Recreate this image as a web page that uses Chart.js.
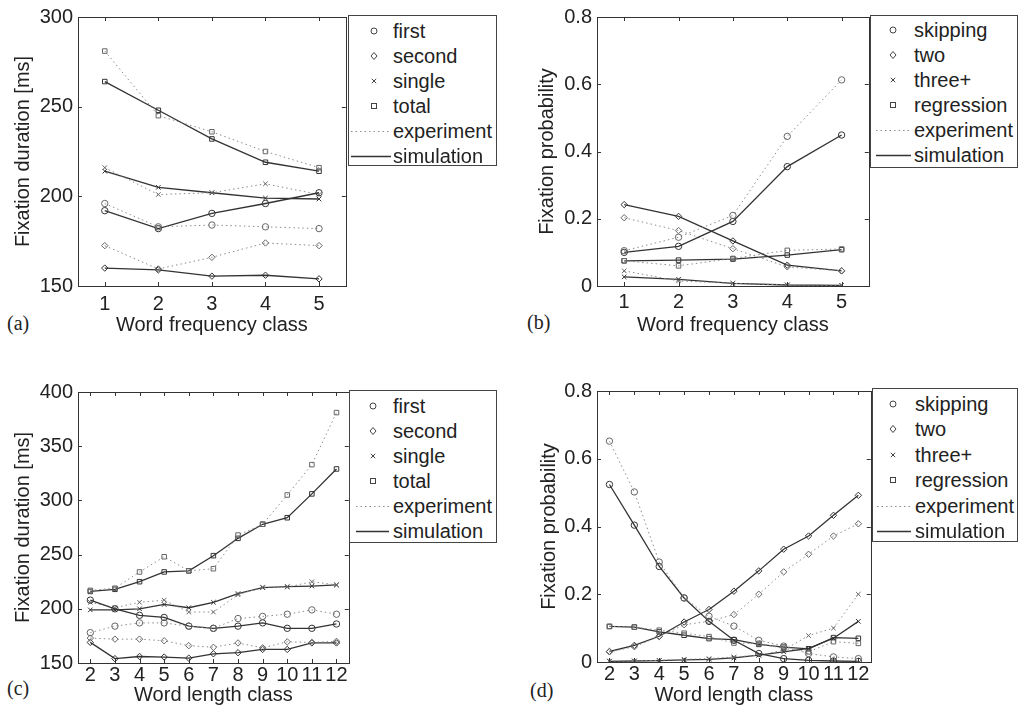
<!DOCTYPE html>
<html>
<head>
<meta charset="utf-8">
<script src="https://cdn.jsdelivr.net/npm/chart.js@4.4.1/dist/chart.umd.min.js"></script>
<style>
body{margin:0;background:#fff;width:1020px;height:711px;position:relative;overflow:hidden;font-family:"Liberation Sans",Arial,sans-serif;color:#222;}
canvas{position:absolute;}
.legend{position:absolute;border:1px solid #444;background:#fff;box-sizing:border-box;}
.legend .row{position:absolute;left:0;right:0;height:24px;line-height:24px;font-size:20px;white-space:nowrap;}
.legend svg{position:absolute;left:0;top:0;}
.legend span{position:absolute;}
.tag{position:absolute;font-family:"Liberation Serif","Times New Roman",serif;font-size:20px;line-height:24px;}
</style>
</head>
<body>

<div class="tag" style="left:7px;top:311px">(a)</div>
<div class="tag" style="left:527px;top:310px">(b)</div>
<div class="tag" style="left:7px;top:676px">(c)</div>
<div class="tag" style="left:530px;top:678px">(d)</div>

<script>
// x categories
const freqClasses = ["1","2","3","4","5"];
const lengthClasses = ["2","3","4","5","6","7","8","9","10","11","12"];

// y ticks
const durTicksA = [150,200,250,300];
const durTicksC = [150,200,250,300,350,400];
const probTicks = [0,0.2,0.4,0.6,0.8];
const probTickLabels = ["0","0.2","0.4","0.6","0.8"];

// (a) fixation durations by word frequency class
const firstExpA  = [196,183,184,183,182];
const firstSimA  = [192,182,190.5,196,202];
const secondExpA = [172.5,159.5,166,174,172.5];
const secondSimA = [160,159,155.5,156,154];
const singleExpA = [216,201,202,207,201];
const singleSimA = [214,205,202,199,198.5];
const totalExpA  = [281,245,236,225,216];
const totalSimA  = [264,248,232,219,214];

// (b) fixation probabilities by word frequency class
const skipExpB  = [0.105,0.145,0.21,0.445,0.613];
const skipSimB  = [0.10,0.118,0.192,0.355,0.449];
const twoExpB   = [0.203,0.165,0.111,0.057,0.045];
const twoSimB   = [0.242,0.207,0.134,0.062,0.045];
const threeExpB = [0.045,0.015,0.008,0.003,0.002];
const threeSimB = [0.027,0.02,0.008,0.003,0.002];
const regExpB   = [0.075,0.06,0.082,0.106,0.11];
const regSimB   = [0.075,0.077,0.08,0.092,0.108];

// (c) fixation durations by word length class
const firstExpC  = [178,184,187,187,184,182,191,193,195,199,195];
const firstSimC  = [208,200,194,192,184,182,184,187,182,182,186];
const secondExpC = [173,172,172,170.5,166,164.5,168.5,164,169.5,169,170];
const secondSimC = [169,154,156,155.5,154.5,158.5,159.5,162.5,162.5,168.5,168.5];
const singleExpC = [206,201,206,208,197,197,213,220,220,225,222];
const singleSimC = [199,199,200,204,201,206,214,219.5,220.5,221,222];
const totalExpC  = [217,219,234,248,235,237,268,278,305,333,381];
const totalSimC  = [216,218,225,234,235,249,265,278,284,306,329];

// (d) fixation probabilities by word length class
const skipExpD  = [0.652,0.502,0.295,0.189,0.135,0.106,0.064,0.047,0.025,0.015,0.01];
const skipSimD  = [0.524,0.404,0.282,0.189,0.12,0.064,0.025,0.01,0.005,0.003,0.002];
const twoExpD   = [0.03,0.045,0.075,0.11,0.12,0.14,0.2,0.266,0.318,0.372,0.408];
const twoSimD   = [0.031,0.049,0.076,0.118,0.155,0.209,0.269,0.333,0.372,0.433,0.492];
const threeExpD = [0.003,0.003,0.005,0.008,0.01,0.015,0.02,0.035,0.078,0.10,0.20];
const threeSimD = [0.002,0.003,0.004,0.006,0.008,0.012,0.02,0.03,0.04,0.07,0.12];
const regExpD   = [0.105,0.103,0.094,0.085,0.075,0.056,0.055,0.04,0.03,0.06,0.055];
const regSimD   = [0.105,0.103,0.089,0.079,0.069,0.066,0.052,0.044,0.039,0.072,0.07];

const durNames  = ["first","second","single","total"];
const probNames = ["skipping","two","three+","regression"];
const markers   = ["circle","rectRot","crossRot","rect"];

Chart.defaults.font.family = '"Liberation Sans", Arial, sans-serif';
Chart.defaults.font.size = 20;
Chart.defaults.color = "#222";

// box round the plot + inward ticks, matlab style
const framePlugin = {
  id: "frame",
  afterDraw(chart){
    const {ctx, chartArea:a, scales:{x, y}} = chart;
    ctx.save();
    ctx.strokeStyle = "#333";
    ctx.lineWidth = 1;
    ctx.strokeRect(Math.round(a.left)+0.5, Math.round(a.top)+0.5, Math.round(a.width), Math.round(a.height));
    ctx.beginPath();
    x.ticks.forEach((t,i)=>{
      const px = Math.round(x.getPixelForTick(i))+0.5;
      ctx.moveTo(px,a.bottom); ctx.lineTo(px,a.bottom-4);
      ctx.moveTo(px,a.top); ctx.lineTo(px,a.top+4);
    });
    y.ticks.forEach((t,i)=>{
      const py = Math.round(y.getPixelForTick(i))+0.5;
      ctx.moveTo(a.left,py); ctx.lineTo(a.left+4,py);
      ctx.moveTo(a.right,py); ctx.lineTo(a.right-4,py);
    });
    ctx.stroke();
    ctx.restore();
  }
};

function makePanel(p){
  const cv = document.createElement("canvas");
  cv.width = p.w; cv.height = p.h;
  cv.style.left = p.x+"px"; cv.style.top = p.y+"px";
  document.body.appendChild(cv);

  const datasets = [];
  p.series.forEach((s,i)=>{
    datasets.push({
      data: s[0], pointStyle: markers[i], pointRadius: 3.2, pointHoverRadius: 3.2,
      borderColor: "#8c8c8c", borderDash: [1.5,3], borderWidth: 1,
      pointBorderColor: "#666", pointBackgroundColor: "rgba(0,0,0,0)", pointBorderWidth: 1
    });
    datasets.push({
      data: s[1], pointStyle: markers[i], pointRadius: 3.2, pointHoverRadius: 3.2,
      borderColor: "#333", borderWidth: 1.3,
      pointBorderColor: "#333", pointBackgroundColor: "rgba(0,0,0,0)", pointBorderWidth: 1
    });
  });

  new Chart(cv, {
    type: "line",
    data: {labels: p.labels, datasets: datasets},
    options: {
      responsive: false,
      animation: false,
      layout: {padding: {top: p.padTop, right: 3, left: 0, bottom: 0}},
      plugins: {legend: {display: false}, tooltip: {enabled: false}},
      scales: {
        x: {
          type: "category", offset: true,
          grid: {display: false, drawTicks: false}, border: {display: false},
          ticks: {padding: p.xTickPad, maxRotation: 0, autoSkip: false},
          title: {display: true, text: p.xTitle, padding: {top: 0, bottom: p.xTitlePad}},
          afterFit: s => { s.height = p.xH; }
        },
        y: {
          min: p.yTicks[0], max: p.yTicks[p.yTicks.length-1],
          grid: {display: false, drawTicks: false}, border: {display: false},
          afterBuildTicks: s => { s.ticks = p.yTicks.map(v => ({value: v})); },
          ticks: {padding: 5, callback: (v,i) => p.yLabels[i]},
          title: {display: true, text: p.yTitle, padding: {top: p.yTitlePad, bottom: 0}},
          afterFit: s => { s.width = p.yW; }
        }
      }
    },
    plugins: [framePlugin]
  });
}

function markerSvg(style, cx){
  const c = 12;
  if(style === "circle") return `<circle cx="${cx}" cy="${c}" r="3"/>`;
  if(style === "rectRot") return `<path d="M${cx} ${c-3.5}L${cx+3} ${c}L${cx} ${c+3.5}L${cx-3} ${c}Z"/>`;
  if(style === "crossRot") return `<path d="M${cx-2.2} ${c-2.2}L${cx+2.2} ${c+2.2}M${cx+2.2} ${c-2.2}L${cx-2.2} ${c+2.2}"/>`;
  return `<rect x="${cx-2.5}" y="${c-2.5}" width="5" height="5"/>`;
}

function makeLegend(b, names){
  const el = document.createElement("div");
  el.className = "legend";
  Object.assign(el.style, {left: b.x+"px", top: b.y+"px", width: b.w+"px", height: b.h+"px"});
  const rows = names.concat(["experiment","simulation"]);
  rows.forEach((name,i)=>{
    const row = document.createElement("div");
    row.className = "row";
    row.style.top = (b.first + i*b.step - 12)+"px";
    let svg;
    if(i < names.length){
      svg = `<svg width="${b.w}" height="24" fill="none" stroke="#444" stroke-width="1">${markerSvg(markers[i], b.mx)}</svg>`;
    } else if(name === "experiment"){
      svg = `<svg width="${b.w}" height="24"><line x1="${b.l1}" y1="12.5" x2="${b.l2}" y2="12.5" stroke="#8c8c8c" stroke-width="1" stroke-dasharray="1.5 3"/></svg>`;
    } else {
      svg = `<svg width="${b.w}" height="24"><line x1="${b.l1}" y1="12.5" x2="${b.l2}" y2="12.5" stroke="#333" stroke-width="1.3"/></svg>`;
    }
    row.innerHTML = svg + `<span style="left:${b.tx}px">${name}</span>`;
    el.appendChild(row);
  });
  document.body.appendChild(el);
}

makePanel({
  x: 0, y: 0, w: 350, h: 345, padTop: 16, yW: 78, xH: 59, xTickPad: 6, xTitlePad: 8, yTitlePad: 11,
  labels: freqClasses, yTicks: durTicksA, yLabels: durTicksA.map(String),
  xTitle: "Word frequency class", yTitle: "Fixation duration [ms]",
  series: [[firstExpA,firstSimA],[secondExpA,secondSimA],[singleExpA,singleSimA],[totalExpA,totalSimA]]
});

makePanel({
  x: 500, y: 0, w: 373, h: 345, padTop: 15, yW: 97, xH: 59, xTickPad: 4, xTitlePad: 8, yTitlePad: 35,
  labels: freqClasses, yTicks: probTicks, yLabels: probTickLabels,
  xTitle: "Word frequency class", yTitle: "Fixation probability",
  series: [[skipExpB,skipSimB],[twoExpB,twoSimB],[threeExpB,threeSimB],[regExpB,regSimB]]
});

makePanel({
  x: 0, y: 360, w: 353, h: 351, padTop: 32, yW: 78, xH: 48, xTickPad: 0, xTitlePad: 4, yTitlePad: 11,
  labels: lengthClasses, yTicks: durTicksC, yLabels: durTicksC.map(String),
  xTitle: "Word length class", yTitle: "Fixation duration [ms]",
  series: [[firstExpC,firstSimC],[secondExpC,secondSimC],[singleExpC,singleSimC],[totalExpC,totalSimC]]
});

makePanel({
  x: 500, y: 360, w: 375, h: 351, padTop: 31, yW: 97, xH: 49, xTickPad: 0, xTitlePad: 4, yTitlePad: 37,
  labels: lengthClasses, yTicks: probTicks, yLabels: probTickLabels,
  xTitle: "Word length class", yTitle: "Fixation probability",
  series: [[skipExpD,skipSimD],[twoExpD,twoSimD],[threeExpD,threeSimD],[regExpD,regSimD]]
});

makeLegend({x:348, y:15,  w:149, h:151, first:15, step:25,   mx:25, tx:44, l1:2, l2:42}, durNames);
makeLegend({x:870, y:15,  w:148, h:153, first:14, step:25,   mx:22, tx:43, l1:5, l2:40}, probNames);
makeLegend({x:349, y:390, w:148, h:153, first:15, step:25,   mx:23, tx:43, l1:6, l2:39}, durNames);
makeLegend({x:872, y:388, w:146, h:154, first:15, step:25.4, mx:20, tx:42, l1:4, l2:38}, probNames);
</script>
</body>
</html>
